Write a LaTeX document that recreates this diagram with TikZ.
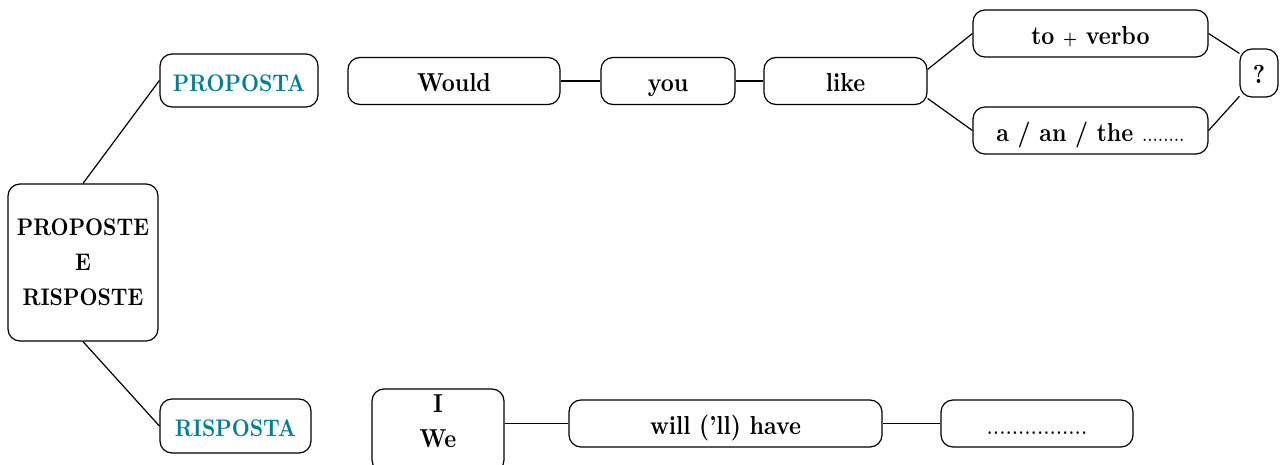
\documentclass[tikz,border=0pt]{standalone}
\usepackage{fontspec}
\usepackage{tikz}
\newfontfamily\boxfont{lmroman10-regular.otf}[FakeStretch=0.87, BoldFont=lmroman10-bold.otf]
\definecolor{propcolor}{RGB}{0,128,150}

\begin{document}
\begin{tikzpicture}[x=0.5pt, y=-0.5pt, line width=0.6pt,
    box/.style={fill=white, draw, rounded corners=6pt, inner sep=0pt,
      minimum height=23.5pt, align=center,
      font=\boxfont\fontsize{13}{17.5}\selectfont\bfseries},
    wordbox/.style={box, text height=11.5pt, text depth=0.5pt},
    capsbox/.style={font=\boxfont\fontsize{12}{17.5}\selectfont\bfseries}]
    \useasboundingbox (0,0) rectangle (1282,465);

    \node[box, capsbox, minimum width=75pt, minimum height=78.5pt] (PropRisp) at (83,262.5) {PROPOSTE\\E\\RISPOSTE};

    \node[wordbox, capsbox, minimum width=79pt, minimum height=26.5pt, text=propcolor] (Proposta) at (239,80.5) {PROPOSTA};
    \node[wordbox, capsbox, minimum width=75.5pt, minimum height=27pt, text=propcolor] (Risposta) at (235.5,426) {RISPOSTA};
    \draw (PropRisp.north) -- (Proposta.west);
    \draw (PropRisp.south) -- (Risposta.west);

    \node[wordbox, minimum width=106pt] (Would) at (454,81) {Would};
    \node[wordbox, minimum width=67pt] (you) at (668,81) {you};
    \node[wordbox, minimum width=81.5pt] (like) at (845.5,81) {like};
    \draw (Would) -- (you);
    \draw (you) -- (like);

    \node[wordbox, minimum width=117.5pt] (toverbo) at (1090.5,33.5) {to {\small+} verbo};
    \node[wordbox, minimum width=117.5pt] (article) at (1090.5,130.5) {a / an / the {\mdseries\fontsize{11}{13}\selectfont........}};
    \draw (like.8) -- (toverbo.west);
    \draw (like.-12) -- (article.west);

    \node[wordbox, minimum width=19pt, minimum height=24pt] (question) at (1259,73) {?};
    \draw (toverbo.east) -- (question.135);
    \draw (article.east) -- (question.-130);

    \node[box, minimum width=66pt, minimum height=41.5pt, text depth=9pt] (IWe) at (438,430.5) {I\\We};
    \node[wordbox, minimum width=156.5pt] (willhave) at (725.5,423.5) {will (’ll) have};
    \node[wordbox, minimum width=96pt] (dots) at (1037,423.5) {\mdseries................};
    \draw (IWe.east |- willhave) -- (willhave);
    \draw (willhave) -- (dots);
  \end{tikzpicture}
\end{document}
